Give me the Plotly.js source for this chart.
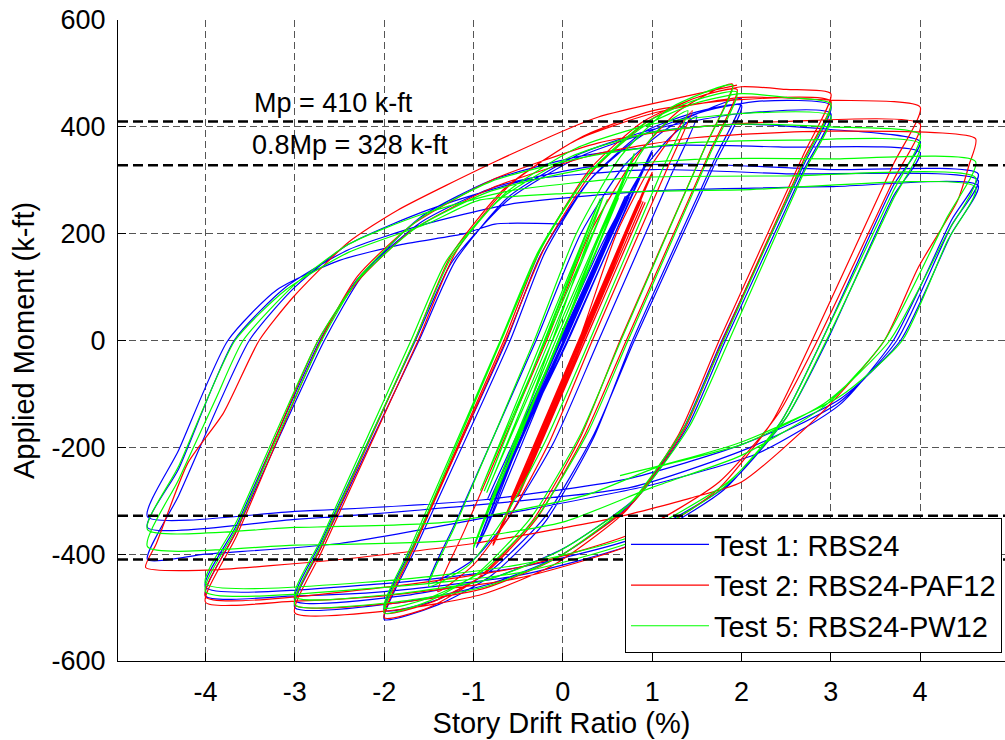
<!DOCTYPE html>
<html>
<head>
<meta charset="utf-8">
<script src="https://cdn.plot.ly/plotly-3.0.1.min.js"></script>
<style>
  html, body { margin: 0; padding: 0; background: #fff; }
  #chart { width: 1005px; height: 740px; }
</style>
</head>
<body>
<div id="chart"></div>
<script>
// ---- Data: [story drift ratio (%), applied moment (k-ft)] ----
const seriesNames = ['Test 1: RBS24', 'Test 2: RBS24-PAF12', 'Test 5: RBS24-PW12'];
const seriesColors = ['#0000ff', '#ff0000', '#00ff00'];

const test1Points = [
  [0,0],[0.38,142],[0.30,112],[-0.38,-150],[-0.30,-120],
  [0.50,187],[0.42,157],[-0.50,-196],[-0.42,-165],
  [0.75,278],[0.65,242],[-0.75,-292],[-0.65,-256],
  [0.75,275],[0.65,240],[-0.76,-290],[-0.66,-255],
  [0.72,272],[0.64,243],[-0.80,-292],[-0.72,-262],
  [0.70,270],[0.62,240],[-0.84,-296],[-0.76,-266],
  [0.74,268],[0.66,238],[-0.82,-300],[-0.74,-270],
  [0.60,225],[1.00,352],[0.90,318],[0.05,0],[-0.55,-215],[-0.95,-382],
  [-0.85,-350],[0.02,0],[0.60,222],[1.00,356],
  [0.90,322],[0.06,0],[-0.55,-212],[-0.97,-388],
  [-0.87,-355],[-0.05,0],[0.45,185],[0.90,320],[1.20,380],[1.50,420],
  [1.20,305],[0.40,0],[-0.10,-190],[-0.60,-330],[-1.00,-410],[-1.50,-455],
  [-1.20,-340],[-0.30,0],[0.20,200],[0.70,330],[1.20,400],[2.00,452],
  [1.70,340],[0.78,0],[0.35,-180],[-0.20,-340],[-0.80,-440],[-1.40,-495],[-2.00,-522],
  [-1.65,-390],[-0.59,0],[-0.20,165],[0.30,300],[0.90,390],[1.50,428],[2.00,440],
  [1.70,330],[0.80,0],[0.35,-175],[-0.20,-330],[-0.80,-430],[-1.40,-485],[-2.00,-505],
  [-1.65,-375],[-0.63,0],[-0.25,160],[0.30,300],[0.90,385],[1.60,430],[2.20,448],[3.00,440],
  [2.70,330],[1.78,0],[1.35,-165],[0.80,-300],[0.00,-400],[-0.80,-455],[-1.80,-490],[-3.00,-500],
  [-2.70,-385],[-1.61,0],[-1.20,150],[-0.60,270],[0.20,350],[1.00,395],[2.00,425],[3.00,425],
  [2.70,320],[1.82,0],[1.40,-160],[0.85,-290],[0.00,-390],[-0.80,-445],[-1.80,-478],[-3.00,-487],
  [-2.70,-375],[-1.65,0],[-1.25,145],[-0.60,265],[0.20,345],[1.00,390],[2.00,405],[3.00,395],[4.00,372],
  [3.70,290],[2.90,0],[2.45,-150],[1.80,-280],[0.80,-380],[-0.50,-440],[-2.00,-470],[-3.00,-478],[-4.00,-478],
  [-3.65,-355],[-2.67,0],[-2.25,120],[-1.60,230],[-0.80,300],[0.20,345],[1.20,365],[2.50,362],[4.00,352],
  [3.70,270],[2.96,0],[2.50,-145],[1.85,-270],[0.80,-370],[-0.50,-425],[-2.00,-455],[-4.00,-462],
  [-3.65,-345],[-2.72,0],[-2.30,115],[-1.60,220],[-0.80,285],[0.30,325],[1.50,330],[3.00,320],[4.65,312],
  [4.35,225],[3.70,0],[3.10,-120],[2.20,-210],[1.00,-270],[-0.50,-320],[-2.50,-380],[-4.00,-400],[-4.65,-410],
  [-4.30,-290],[-3.51,0],[-3.00,100],[-2.40,180],[-1.50,245],[-0.40,300],[1.00,320],[2.50,312],[4.65,300],
  [4.35,215],[3.74,0],[3.10,-115],[2.10,-200],[0.76,-275],[-1.31,-313],[-3.00,-335],[-4.65,-350],
  [-4.30,-240],[-3.68,0],[-3.10,100],[-2.40,170],[-1.60,215],[-0.60,255],[1.00,280],[3.00,288],[4.65,290],
  [4.35,200],[3.78,0],[3.10,-110],[2.00,-195],[0.70,-260],[-1.00,-300],[-3.00,-320],[-4.65,-330],
  [-4.30,-205],[-3.75,0],[-3.20,95],[-2.50,150],[-1.80,180],[-1.10,200],[-0.76,218],[0.00,218]
];

const test2Points = [
  [0.18,0],[0.50,125],[0.42,95],[-0.25,-168],[-0.17,-138],
  [0.62,172],[0.54,142],[-0.38,-218],[-0.30,-188],
  [0.85,262],[0.76,228],[-0.58,-296],[-0.50,-265],
  [0.85,260],[0.76,226],[-0.58,-298],[-0.50,-266],
  [0.88,262],[0.80,232],[-0.55,-296],[-0.47,-266],
  [0.90,260],[0.82,230],[-0.52,-294],[-0.44,-264],
  [0.92,258],[0.84,228],[-0.50,-292],[-0.42,-262],
  [1.00,315],[0.90,280],[0.20,0],[-0.40,-240],[-0.78,-380],
  [-0.70,-350],[0.20,0],[0.60,160],[1.00,312],
  [0.90,278],[0.22,0],[-0.40,-242],[-0.78,-383],
  [-0.68,-348],[0.18,0],[0.60,200],[1.00,330],[1.45,430],
  [1.15,315],[0.33,0],[-0.15,-190],[-0.60,-330],[-1.00,-420],[-1.40,-470],
  [-1.10,-355],[-0.18,0],[0.30,200],[0.80,340],[1.30,430],[1.90,480],
  [1.60,365],[0.64,0],[0.20,-180],[-0.35,-340],[-0.95,-445],[-1.50,-500],[-2.00,-519],
  [-1.70,-400],[-0.64,0],[-0.20,175],[0.35,320],[0.95,410],[1.50,455],[1.95,470],
  [1.65,355],[0.71,0],[0.25,-175],[-0.30,-335],[-0.90,-440],[-1.50,-492],[-2.00,-510],
  [-1.70,-395],[-0.66,0],[-0.25,170],[0.30,320],[0.90,410],[1.50,455],[2.00,475],[2.50,470],[3.00,462],
  [2.70,350],[1.75,0],[1.30,-175],[0.70,-320],[-0.10,-420],[-0.90,-475],[-1.90,-505],[-3.00,-510],
  [-2.70,-395],[-1.62,0],[-1.20,165],[-0.60,290],[0.20,380],[1.00,430],[1.90,450],[3.00,448],
  [2.70,340],[1.79,0],[1.35,-170],[0.75,-310],[-0.10,-410],[-0.90,-465],[-1.90,-492],[-3.00,-495],
  [-2.70,-385],[-1.66,0],[-1.25,160],[-0.65,285],[0.15,375],[1.00,425],[2.00,455],[3.00,450],[4.00,437],
  [3.70,330],[2.79,0],[2.35,-150],[1.73,-280],[0.80,-380],[-0.50,-445],[-2.00,-478],[-3.00,-488],[-4.00,-490],
  [-3.65,-365],[-2.71,0],[-2.30,120],[-1.70,215],[-0.80,300],[0.40,370],[1.50,400],[2.50,410],[4.00,405],
  [3.70,300],[2.85,0],[2.40,-140],[1.75,-265],[0.80,-360],[-0.50,-425],[-2.00,-462],[-4.00,-480],
  [-3.65,-355],[-2.74,0],[-2.30,110],[-1.70,205],[-0.80,285],[0.40,350],[1.50,380],[3.00,392],[4.62,378],
  [4.55,330],[4.42,262],[3.98,137],[3.60,0],[2.93,-130],[2.00,-265],[1.43,-295],[0.50,-335],[-1.00,-380],[-2.50,-410],[-4.00,-430],[-4.67,-425],
  [-4.55,-380],[-4.20,-230],[-3.80,-136],[-3.40,0],[-3.02,81],[-2.40,184],[-1.85,244],[-0.73,337],[0.39,418],[1.32,455],[1.95,478]
];

const test5Points = [
  [-0.05,0],[0.30,140],[0.23,112],[-0.38,-133],[-0.31,-105],
  [0.42,188],[0.35,160],[-0.50,-180],[-0.43,-152],
  [0.62,268],[0.54,236],[-0.72,-275],[-0.64,-243],
  [0.62,266],[0.54,234],[-0.73,-278],[-0.65,-246],
  [0.45,268],[0.37,236],[-0.88,-282],[-0.80,-250],
  [0.42,266],[0.34,234],[-0.92,-280],[-0.84,-248],
  [0.50,264],[0.42,232],[-0.85,-284],[-0.77,-252],
  [0.80,350],[0.71,315],[-0.08,0],[-0.55,-190],[-1.00,-385],
  [-0.92,-352],[-0.04,0],[0.40,180],[0.80,348],
  [0.71,312],[-0.08,0],[-0.55,-192],[-1.00,-388],
  [-0.92,-355],[-0.04,0],[0.40,190],[0.85,345],[1.10,400],[1.40,430],
  [1.10,315],[0.30,0],[-0.20,-190],[-0.65,-330],[-1.05,-420],[-1.50,-460],
  [-1.20,-345],[-0.32,0],[0.15,200],[0.65,345],[1.20,435],[1.90,478],
  [1.60,365],[0.65,0],[0.20,-175],[-0.35,-330],[-0.95,-435],[-1.50,-488],[-2.00,-510],
  [-1.70,-395],[-0.69,0],[-0.25,170],[0.30,315],[0.90,405],[1.45,448],[1.95,465],
  [1.65,350],[0.73,0],[0.28,-172],[-0.28,-328],[-0.90,-432],[-1.50,-482],[-2.00,-500],
  [-1.70,-385],[-0.70,0],[-0.28,165],[0.28,310],[0.90,400],[1.50,445],[2.00,462],[2.50,455],[3.00,443],
  [2.70,335],[1.80,0],[1.35,-165],[0.75,-305],[-0.05,-405],[-0.85,-460],[-1.90,-490],[-3.00,-495],
  [-2.70,-380],[-1.66,0],[-1.25,155],[-0.65,275],[0.15,360],[1.00,405],[2.00,425],[3.00,420],
  [2.70,315],[1.86,0],[1.42,-160],[0.82,-295],[-0.05,-395],[-0.85,-448],[-1.90,-475],[-3.00,-480],
  [-2.70,-370],[-1.70,0],[-1.30,150],[-0.70,265],[0.10,345],[1.00,390],[2.00,405],[3.00,400],[4.00,385],
  [3.70,280],[2.90,0],[2.45,-150],[1.80,-275],[0.80,-375],[-0.50,-435],[-2.00,-462],[-4.00,-470],
  [-3.65,-350],[-2.70,0],[-2.28,118],[-1.65,222],[-0.80,298],[0.30,345],[1.40,370],[2.60,375],[4.00,368],
  [3.70,265],[2.95,0],[2.50,-145],[1.85,-265],[0.80,-365],[-0.50,-420],[-2.00,-450],[-4.00,-455],
  [-3.65,-338],[-2.74,0],[-2.30,112],[-1.65,210],[-0.80,280],[0.40,325],[1.60,340],[3.00,340],[4.62,335],
  [4.30,230],[3.60,0],[2.95,-120],[2.00,-215],[1.00,-275],[0.00,-340],[-1.30,-375],[-3.00,-383],[-4.65,-386],
  [-4.30,-260],[-3.89,-111],[-3.58,0],[-3.00,105],[-2.40,180],[-1.60,235],[-0.60,280],[0.80,305],[2.50,308],[4.62,305],
  [4.30,200],[3.66,0],[2.95,-115],[2.00,-195],[1.06,-237],[0.25,-290],[-1.30,-340],[-3.00,-350],[-4.65,-354],
  [-4.30,-235],[-3.67,0],[-3.10,95],[-2.40,165],[-1.50,220],[-0.95,262],[0.00,275],[2.00,282],[4.62,287],
  [4.30,185],[3.80,0],[3.10,-105],[2.00,-190],[1.30,-225],[0.64,-253]
];

// Reference moment levels (k-ft)
const refLevels = [410, 328, -328, -410];
const refLabels = ['Mp = 410 k-ft', '0.8Mp = 328 k-ft'];

const xTicks = [-4, -3, -2, -1, 0, 1, 2, 3, 4];
const yTicks = [-600, -400, -200, 0, 200, 400, 600];

// ---- Build traces ----
const allPoints = [test1Points, test2Points, test5Points];
const traces = allPoints.map((pts, i) => ({
  type: 'scatter',
  mode: 'lines',
  name: seriesNames[i],
  x: pts.map(p => p[0]),
  y: pts.map(p => p[1]),
  line: { color: seriesColors[i], width: 1.2, shape: 'spline', smoothing: 0.6 },
  hoverinfo: 'skip'
}));

const FONT = 'Liberation Sans, Arial, Helvetica, sans-serif';

const shapes = refLevels.map(v => ({
  type: 'line', xref: 'paper', yref: 'y', x0: 0, x1: 1, y0: v, y1: v,
  line: { color: 'black', width: 2.5, dash: '10px,5px' },
  layer: 'above'
}));

const annotations = [
  { x: -3.48, y: 445, xref: 'x', yref: 'y', text: refLabels[0], showarrow: false,
    xanchor: 'left', yanchor: 'middle', font: { family: FONT, size: 27, color: 'black' } },
  { x: -3.50, y: 366, xref: 'x', yref: 'y', text: refLabels[1], showarrow: false,
    xanchor: 'left', yanchor: 'middle', font: { family: FONT, size: 27, color: 'black' } }
];

const axisCommon = {
  ticks: 'inside', ticklen: 8, tickwidth: 1, tickcolor: 'black',
  showgrid: true, gridcolor: '#555', gridwidth: 1, griddash: '7px,4px',
  zeroline: false, showline: true, linecolor: 'black', linewidth: 1,
  tickfont: { family: FONT, size: 27, color: 'black' },
  fixedrange: true
};

const layout = {
  width: 1005, height: 740,
  margin: { l: 118, r: 0, t: 20, b: 79, pad: 0 },
  paper_bgcolor: 'white', plot_bgcolor: 'white',
  font: { family: FONT, size: 27, color: 'black' },
  showlegend: true,
  legend: {
    x: 0.9966, y: 0.0125, xanchor: 'right', yanchor: 'bottom',
    bgcolor: 'white', bordercolor: 'black', borderwidth: 1,
    font: { family: FONT, size: 29, color: 'black' },
    itemwidth: 78, tracegroupgap: 0
  },
  xaxis: Object.assign({}, axisCommon, {
    range: [-4.98, 4.95], tickvals: xTicks, ticktext: xTicks.map(String),
    ticklabelstandoff: 7,
    title: { text: 'Story Drift Ratio (%)', font: { family: FONT, size: 29, color: 'black' }, standoff: 0 }
  }),
  yaxis: Object.assign({}, axisCommon, {
    range: [-600, 600], tickvals: yTicks, ticktext: yTicks.map(String),
    ticklabelstandoff: 6,
    title: { text: 'Applied Moment (k-ft)', font: { family: FONT, size: 29, color: 'black' }, standoff: 8 }
  }),
  shapes: shapes,
  annotations: annotations
};

Plotly.newPlot('chart', traces, layout, { displayModeBar: false, staticPlot: true });
</script>
</body>
</html>
